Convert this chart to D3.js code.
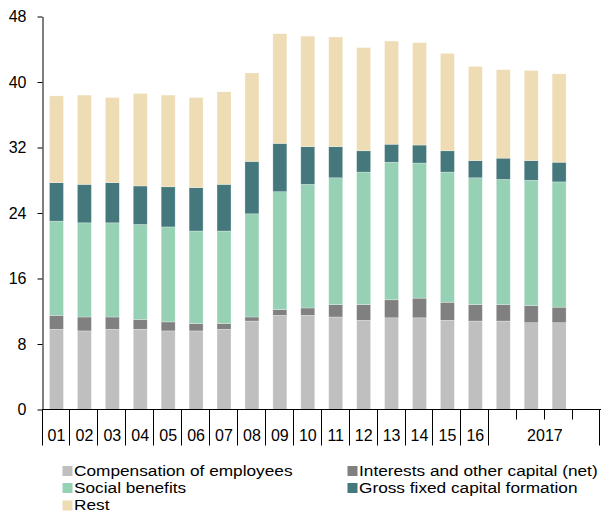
<!DOCTYPE html>
<html>
<head>
<meta charset="utf-8">
<script src="https://cdn.jsdelivr.net/npm/d3@7"></script>
<style>
  html, body { margin: 0; padding: 0; background: #fff; }
  svg { display: block; font-family: "Liberation Sans", Arial, sans-serif; }
</style>
</head>
<body>
<svg id="chart" width="602" height="516"></svg>
<script>
// ---- data ----
const categories = ["01","02","03","04","05","06","07","08","09","10","11","12","13","14","15","16","2017Q1","2017Q2","2017Q3","2017Q4"];
const axisLabels = ["01","02","03","04","05","06","07","08","09","10","11","12","13","14","15","16"];
const groupLabel = "2017";
const compensation = [9.8,9.6,9.8,9.8,9.6,9.6,9.8,10.8,11.5,11.5,11.3,10.9,11.2,11.2,10.9,10.8,10.8,10.6,10.6,null];
const interests    = [1.7,1.7,1.5,1.2,1.1,0.9,0.7,0.5,0.7,0.9,1.5,1.9,2.2,2.4,2.2,2.0,2.0,2.1,1.9,null];
const socialBen    = [11.5,11.5,11.5,11.6,11.6,11.3,11.3,12.6,14.4,15.1,15.5,16.2,16.8,16.5,15.9,15.5,15.3,15.3,15.3,null];
const gfcf         = [4.7,4.7,4.9,4.7,4.9,5.3,5.7,6.4,5.9,4.6,3.8,2.6,2.2,2.2,2.6,2.1,2.6,2.4,2.4,null];
const rest         = [10.6,10.9,10.4,11.3,11.2,11.0,11.3,10.8,13.4,13.5,13.4,12.6,12.6,12.5,11.9,11.5,10.8,11.0,10.8,null];
const seriesNames  = ["Compensation of employees","Interests and other capital (net)","Social benefits","Gross fixed capital formation","Rest"];
const seriesColors = ["#bfbfbf","#808080","#97d1b5","#44787c","#eedcb5"];
const yTicks = [0,8,16,24,32,40,48];

const seriesData = [compensation, interests, socialBen, gfcf, rest];
const keys = ["comp","int","soc","gfcf","rest"];
const table = categories.map((c, i) => {
  const row = { cat: c };
  keys.forEach((k, j) => row[k] = seriesData[j][i] == null ? 0 : seriesData[j][i]);
  return row;
});

const svg = d3.select("#chart");
const y = d3.scaleLinear().domain([0, 48]).range([409.5, 16.5]);
const x = d3.scaleBand().domain(categories).range([42.5, 601]).paddingInner(0.5).paddingOuter(0.25);
const step = x.step();
const x0 = 42.5;

const stack = d3.stack().keys(keys);
const stacked = stack(table);

// bars
const g = svg.append("g");
g.selectAll("g.series").data(stacked).join("g")
  .attr("fill", (d, i) => seriesColors[i])
  .selectAll("rect").data(d => d.filter(p => p[1] - p[0] > 0)).join("rect")
  .attr("x", d => x(d.data.cat))
  .attr("width", x.bandwidth())
  .attr("y", d => y(d[1]))
  .attr("height", d => y(d[0]) - y(d[1]))
  .attr("stroke", "#ffffff")
  .attr("stroke-opacity", 0.45)
  .attr("stroke-width", 0.6);

// y axis
const yAxis = d3.axisLeft(y).tickValues(yTicks).tickSize(5).tickPadding(11).tickSizeOuter(0);
const ya = svg.append("g").attr("transform", `translate(${x0},0)`).call(yAxis);
ya.select(".domain").attr("stroke", "#000").attr("stroke-width", 1);
ya.selectAll(".tick line").attr("stroke", "#000");
ya.selectAll(".tick text").attr("font-size", "16px").attr("fill", "#000")
  .attr("font-family", "Liberation Sans, Arial, sans-serif");

// x axis line
const axisY = y(0);
svg.append("line").attr("x1", x0).attr("x2", 601).attr("y1", axisY).attr("y2", axisY)
  .attr("stroke", "#000").attr("stroke-width", 1.2);

// x ticks: long separators between single-year groups, short between quarters
const boundaries = d3.range(0, categories.length + 1);
svg.append("g").selectAll("line").data(boundaries).join("line")
  .attr("x1", i => Math.round(x0 + i * step) - 0.5 + (i === categories.length ? -1 : 0))
  .attr("x2", i => Math.round(x0 + i * step) - 0.5 + (i === categories.length ? -1 : 0))
  .attr("y1", axisY)
  .attr("y2", i => (i > axisLabels.length && i < categories.length) ? axisY + 10 : axisY + 36)
  .attr("stroke", "#000").attr("stroke-width", 1);

// x labels
svg.append("g").selectAll("text").data(axisLabels).join("text")
  .attr("x", (d, i) => x(categories[i]) + x.bandwidth() / 2)
  .attr("y", 441)
  .attr("text-anchor", "middle")
  .attr("font-size", "16px")
  .attr("fill", "#000")
  .text(d => d);
svg.append("text")
  .attr("x", (x0 + axisLabels.length * step + 600.5) / 2)
  .attr("y", 441)
  .attr("text-anchor", "middle")
  .attr("font-size", "16px")
  .attr("fill", "#000")
  .text(groupLabel);

// legend
const legendPos = [
  { x: 62.5, y: 475.5 }, { x: 347.5, y: 475.5 },
  { x: 62.5, y: 492.5 }, { x: 347.5, y: 492.5 },
  { x: 62.5, y: 510 }
];
const lg = svg.append("g").selectAll("g").data(seriesNames).join("g")
  .attr("transform", (d, i) => `translate(${legendPos[i].x},${legendPos[i].y})`);
lg.append("rect").attr("x", 0).attr("y", -9.5).attr("width", 10).attr("height", 10)
  .attr("fill", (d, i) => seriesColors[i]);
lg.append("text")
  .attr("transform", "translate(11.5,0) scale(1.15,1)")
  .attr("font-size", "15px")
  .attr("fill", "#000")
  .text(d => d);
</script>
</body>
</html>
